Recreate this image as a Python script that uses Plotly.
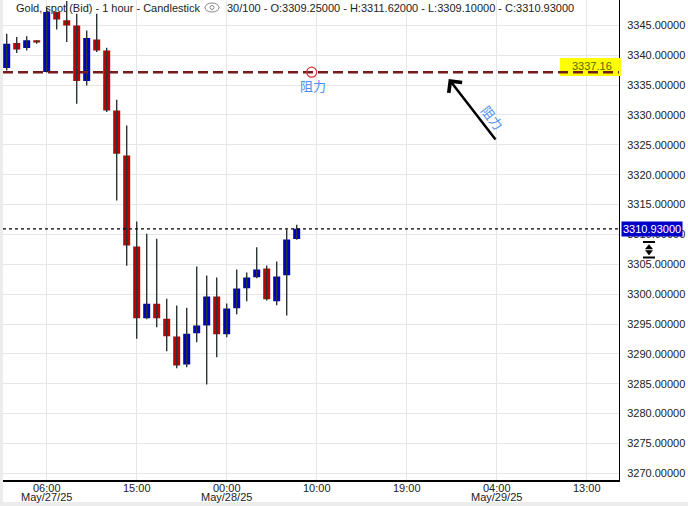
import plotly.graph_objects as go

# ---- data (hourly candles, index 0..29) ----
idx = list(range(30))
open_ = [3337.85, 3342.04, 3341.20, 3342.49, 3337.18, 3347.23, 3345.84, 3345.00, 3335.67, 3342.65,
         3340.81, 3330.76, 3323.22, 3307.98, 3295.97, 3298.38, 3295.87, 3292.91, 3288.22, 3293.46,
         3294.75, 3299.61, 3293.30, 3297.65, 3301.00, 3302.84, 3304.30, 3298.82, 3303.17, 3309.25]
high = [3343.60, 3343.04, 3343.16, 3342.50, 3348.00, 3347.30, 3349.10, 3346.96, 3344.16, 3346.96,
        3341.26, 3332.55, 3328.25, 3312.17, 3310.10, 3309.27, 3299.22, 3298.10, 3297.71, 3304.63,
        3303.12, 3302.79, 3298.43, 3304.13, 3303.63, 3307.86, 3304.80, 3305.47, 3310.83, 3311.62]
low = [3337.46, 3340.36, 3340.81, 3341.93, 3337.10, 3344.33, 3342.20, 3331.88, 3334.95, 3340.53,
       3330.48, 3315.69, 3304.76, 3292.52, 3295.80, 3294.46, 3290.45, 3287.60, 3287.76, 3291.95,
       3284.87, 3289.44, 3292.79, 3296.64, 3298.82, 3302.67, 3298.94, 3298.15, 3296.42, 3309.10]
close = [3341.93, 3340.98, 3342.49, 3342.15, 3347.25, 3346.00, 3345.00, 3335.67, 3342.87, 3340.81,
         3330.76, 3323.51, 3308.15, 3295.97, 3298.38, 3295.97, 3292.96, 3288.05, 3293.36, 3294.75,
         3299.61, 3293.30, 3297.60, 3300.95, 3302.79, 3304.13, 3299.15, 3302.96, 3309.15, 3310.93]

tick_pos = [4, 13, 22, 31, 40, 49, 58]
tick_time = ["06:00", "15:00", "00:00", "10:00", "19:00", "04:00", "13:00"]
date_pos = [4, 22, 49]
date_text = ["May/27/25", "May/28/25", "May/29/25"]
y_ticks = [3270 + 5 * i for i in range(16)]

resistance = 3337.16
last_price = 3310.93
title_left = "Gold, spot (Bid) - 1 hour - Candlestick"
title_right = "30/100 - O:3309.25000 - H:3311.62000 - L:3309.10000 - C:3310.93000"
label_cn = "阻力"

W, H = 688, 506
L, R, T, B = 3, 69, 0, 26
PW, PH = W - L - R, H - T - B


def px(x):
    return (x - L) / PW


def py(y):
    return 1 - (y - T) / PH


BLUE = "#0000c0"
RED = "#c00000"
WICK = "#2b3333"
FONT = "Liberation Sans, Arial, sans-serif"
CN = "Noto Sans CJK SC"

# wicks
wx, wy = [], []
for k, lo, hi in zip(idx, low, high):
    wx += [k, k, None]
    wy += [lo, hi, None]

fig = go.Figure()
fig.add_trace(go.Scatter(x=wx, y=wy, mode="lines", line=dict(color=WICK, width=1.4),
                         hoverinfo="skip", showlegend=False))
fig.add_trace(go.Candlestick(
    x=idx, open=open_, high=high, low=low, close=close,
    increasing=dict(fillcolor=BLUE, line=dict(color=BLUE, width=0)),
    decreasing=dict(fillcolor=RED, line=dict(color=RED, width=0)),
    showlegend=False))

fig.update_layout(
    width=W, height=H,
    margin=dict(l=L, r=R, t=T, b=B),
    paper_bgcolor="white", plot_bgcolor="white",
    font=dict(family=FONT, size=11, color="#222222"),
    boxgap=0.3, boxgroupgap=0,
    xaxis=dict(range=[-0.37, 61.23], tickmode="array", tickvals=tick_pos, ticktext=tick_time,
               showticklabels=False,
               showgrid=True, gridcolor="#e6e6e6", gridwidth=1, zeroline=False,
               showline=True, linecolor="black", linewidth=1.5, ticks="",
               rangeslider=dict(visible=False)),
    yaxis=dict(range=[3268.88, 3349.25], side="right", tickmode="array", tickvals=y_ticks,
               tickformat=".5f", showgrid=True, gridcolor="#e6e6e6", gridwidth=1, zeroline=False,
               showline=True, linecolor="black", linewidth=1, ticks="outside", ticklen=5,
               tickcolor="rgba(0,0,0,0)", tickfont=dict(size=11, color="#222222")),
)

shapes = []
# gray frame strips
shapes.append(dict(type="rect", xref="paper", yref="paper", x0=px(0), x1=px(3), y0=py(506), y1=py(0),
                   fillcolor="#ececec", line=dict(width=0), layer="above"))
shapes.append(dict(type="rect", xref="paper", yref="paper", x0=px(0), x1=px(688), y0=py(506), y1=py(502),
                   fillcolor="#ececec", line=dict(width=0), layer="above"))
# yellow tag
shapes.append(dict(type="rect", xref="paper", yref="paper", x0=px(560), x1=px(621), y0=py(76), y1=py(58),
                   fillcolor="#ffff00", line=dict(width=0), layer="above"))
# resistance line
shapes.append(dict(type="line", xref="paper", yref="y", x0=0, x1=1, y0=resistance, y1=resistance,
                   line=dict(color="#741c1c", width=2.5, dash="10px,5px"), layer="above"))
# last price dotted line
shapes.append(dict(type="line", xref="paper", yref="y", x0=0, x1=1, y0=last_price, y1=last_price,
                   line=dict(color="black", width=1.2, dash="3px,3px"), layer="above"))
# red circle marker on resistance
shapes.append(dict(type="circle", xref="x", yref="y", xsizemode="pixel", ysizemode="pixel",
                   xanchor=30.5, yanchor=resistance, x0=-5, x1=5, y0=-5, y1=5,
                   line=dict(color="#e23030", width=1.2), layer="above"))
# eye icon in header
shapes.append(dict(type="circle", xref="paper", yref="paper", x0=px(205), x1=px(219), y0=py(12), y1=py(3),
                   line=dict(color="#888888", width=1)))
shapes.append(dict(type="circle", xref="paper", yref="paper", x0=px(210), x1=px(214), y0=py(9.5), y1=py(5.5),
                   line=dict(color="#888888", width=1)))
# scale icon under price tag
shapes.append(dict(type="line", xref="paper", yref="paper", x0=px(643), x1=px(655), y0=py(242), y1=py(242),
                   line=dict(color="black", width=2)))
shapes.append(dict(type="line", xref="paper", yref="paper", x0=px(643), x1=px(655), y0=py(257.5), y1=py(257.5),
                   line=dict(color="black", width=2)))
shapes.append(dict(type="path", xref="paper", yref="paper",
                   path=f"M {px(649)},{py(244.5)} L {px(652.5)},{py(249)} L {px(645.5)},{py(249)} Z",
                   fillcolor="black", line=dict(color="black", width=0.5)))
shapes.append(dict(type="path", xref="paper", yref="paper",
                   path=f"M {px(645.5)},{py(250.5)} L {px(652.5)},{py(250.5)} L {px(649)},{py(255)} Z",
                   fillcolor="black", line=dict(color="black", width=0.5)))
fig.update_layout(shapes=shapes)

ann = []
ann.append(dict(text=title_left, xref="paper", yref="paper", x=px(14), y=py(7.5), xanchor="left",
                yanchor="middle", showarrow=False, font=dict(size=11, color="#222222", family=FONT)))
ann.append(dict(text=title_right, xref="paper", yref="paper", x=px(225), y=py(7.5), xanchor="left",
                yanchor="middle", showarrow=False, font=dict(size=11, color="#222222", family=FONT)))
for p, t in zip(tick_pos, tick_time):
    ann.append(dict(text=t, xref="x", yref="paper", x=p, y=py(487.5), xanchor="center", yanchor="middle",
                    showarrow=False, font=dict(size=11, color="#222222", family=FONT)))
for p, t in zip(date_pos, date_text):
    ann.append(dict(text=t, xref="x", yref="paper", x=p, y=py(497.5), xanchor="center", yanchor="middle",
                    showarrow=False, font=dict(size=11, color="#222222", family=FONT)))
ann.append(dict(text="3337.16", xref="paper", yref="paper", x=px(592), y=py(65.5), xanchor="center",
                yanchor="middle", showarrow=False, font=dict(size=11, color="#5a6a00", family=FONT)))
ann.append(dict(text="3310.93000", xref="paper", yref="y", x=px(621), y=last_price, xanchor="left",
                yanchor="middle", showarrow=False, bgcolor="#0000c8", borderpad=1,
                font=dict(size=11, color="white", family=FONT)))
ann.append(dict(text=label_cn, xref="x", yref="y", x=30.6, y=3335.0, xanchor="center", yanchor="middle",
                showarrow=False, font=dict(size=13, color="#4a8ef0", family=CN)))
ann.append(dict(text="", xref="x", yref="y", x=44.2, y=3336.03, ax=48, ay=62, axref="pixel", ayref="pixel",
                showarrow=True, arrowhead=4, arrowsize=1.3, arrowwidth=2.5, arrowcolor="black"))
ann.append(dict(text=label_cn, xref="x", yref="y", x=48.6, y=3329.66, xanchor="center", yanchor="middle",
                textangle=52, showarrow=False, font=dict(size=13, color="#4a8ef0", family=CN)))
fig.update_layout(annotations=ann)

fig.write_html("out.html", config={"displayModeBar": False},
               post_script="document.body.style.margin='0';")
